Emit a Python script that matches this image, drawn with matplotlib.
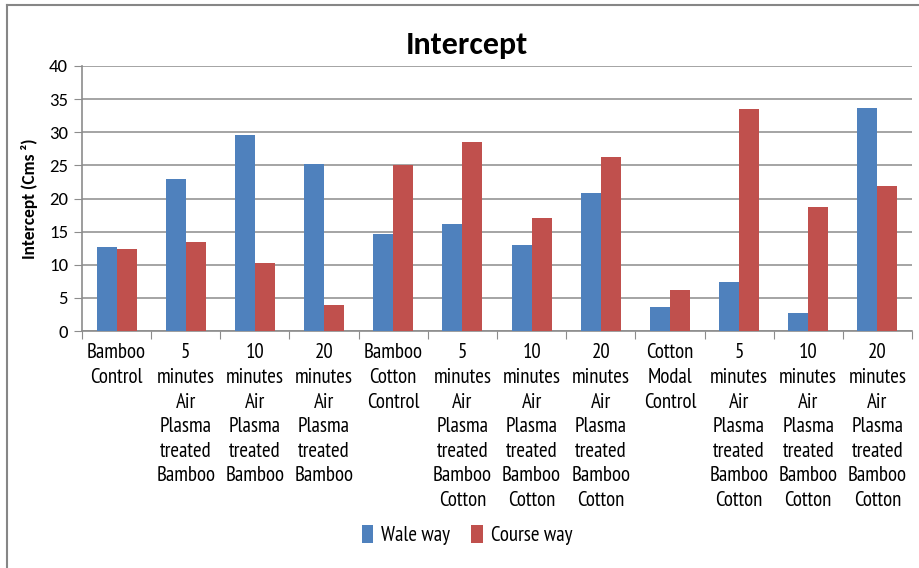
import matplotlib
matplotlib.use("Agg")
import matplotlib.pyplot as plt
import numpy as np
from matplotlib.lines import Line2D

categories = [
    "Bamboo\nControl",
    "5\nminutes\nAir\nPlasma\ntreated\nBamboo",
    "10\nminutes\nAir\nPlasma\ntreated\nBamboo",
    "20\nminutes\nAir\nPlasma\ntreated\nBamboo",
    "Bamboo\nCotton\nControl",
    "5\nminutes\nAir\nPlasma\ntreated\nBamboo\nCotton",
    "10\nminutes\nAir\nPlasma\ntreated\nBamboo\nCotton",
    "20\nminutes\nAir\nPlasma\ntreated\nBamboo\nCotton",
    "Cotton\nModal\nControl",
    "5\nminutes\nAir\nPlasma\ntreated\nBamboo\nCotton",
    "10\nminutes\nAir\nPlasma\ntreated\nBamboo\nCotton",
    "20\nminutes\nAir\nPlasma\ntreated\nBamboo\nCotton",
]
wale_way = [12.7, 23.0, 29.6, 25.2, 14.7, 16.2, 13.0, 20.8, 3.6, 7.4, 2.7, 33.7]
course_way = [12.4, 13.4, 10.3, 3.9, 25.0, 28.5, 17.1, 26.2, 6.2, 33.5, 18.7, 21.9]
yticks = [0, 5, 10, 15, 20, 25, 30, 35, 40]

NARROW = ["PT Sans Narrow", "DejaVu Sans"]
REG = ["Carlito", "Open Sans", "DejaVu Sans"]
plt.rcParams["font.family"] = NARROW

W, H = 919, 568
fig = plt.figure(figsize=(W / 100, H / 100), dpi=100)
ax = fig.add_axes([82 / W, 1 - 331 / H, (912 - 82) / W, (331 - 66) / H])

x = np.arange(len(categories))
bw = 0.29
ax.bar(x - bw / 2, wale_way, bw, color="#4F81BD", label="Wale way", zorder=3)
ax.bar(x + bw / 2, course_way, bw, color="#C0504D", label="Course way", zorder=3)

ax.set_xlim(-0.5, len(categories) - 0.5)
ax.set_ylim(0, 40)
ax.set_yticks(yticks)
ax.set_yticklabels([str(v) for v in yticks], fontsize=13.5, family=REG)
ax.yaxis.grid(True, color="#959595", linewidth=1.2, zorder=0)
ax.set_axisbelow(True)

ax.set_xticks(np.arange(len(categories) + 1) - 0.5, minor=False)
ax.set_xticklabels([])
ax.set_xticks(x, minor=True)
ax.set_xticklabels(categories, minor=True, fontsize=15, linespacing=1.37, va="top")
ax.tick_params(axis="x", which="minor", length=0, pad=9)
ax.tick_params(axis="x", which="major", length=6, color="#8c8c8c", direction="out")
ax.tick_params(axis="y", length=6, color="#8c8c8c", pad=4)

for s in ["top", "right"]:
    ax.spines[s].set_visible(False)
ax.spines["left"].set_color("#8c8c8c")
ax.spines["bottom"].set_color("#8c8c8c")
ax.spines["left"].set_linewidth(1.2)
ax.spines["bottom"].set_linewidth(1.2)

ax.set_ylabel("Intercept (Cms ²)", fontsize=12.5, fontweight="bold", family=REG)
ax.yaxis.set_label_coords(-44 / 830, 0.5)

fig.text(467 / W, 1 - 45 / H, "Intercept", ha="center", va="center",
         fontsize=23, fontweight="bold", family=REG)

handles, labels = ax.get_legend_handles_labels()
fig.legend(handles, labels, loc="center", bbox_to_anchor=(467 / W, 1 - 535 / H),
           ncol=2, frameon=False, fontsize=15, handlelength=0.55, handleheight=1.0,
           handletextpad=0.4, columnspacing=1.0)

# chart border
fig.add_artist(Line2D([7 / W, 1], [1 - 5 / H, 1 - 5 / H], color="#868686", linewidth=1.5,
                      transform=fig.transFigure))
fig.add_artist(Line2D([7 / W, 7 / W], [0, 1 - 5 / H], color="#868686", linewidth=1.5,
                      transform=fig.transFigure))

fig.savefig("out.png", dpi=100)
